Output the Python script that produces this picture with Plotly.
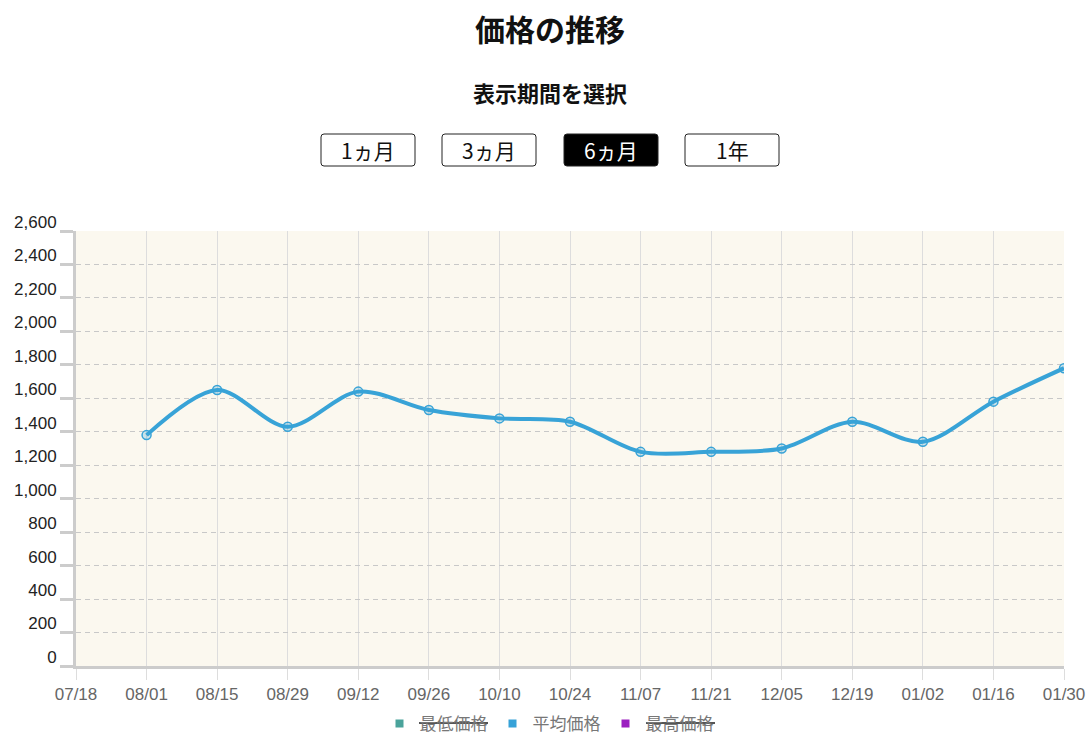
import plotly.graph_objects as go

# ---- data ----
tick_labels = ["07/18", "08/01", "08/15", "08/29", "09/12", "09/26", "10/10", "10/24",
               "11/07", "11/21", "12/05", "12/19", "01/02", "01/16", "01/30"]
price_dates = ["08/01", "08/15", "08/29", "09/12", "09/26", "10/10", "10/24",
               "11/07", "11/21", "12/05", "12/19", "01/02", "01/16", "01/30"]
avg_price = [1380, 1650, 1430, 1640, 1530, 1480, 1460, 1280, 1280, 1300, 1460, 1340, 1580, 1780]
period_buttons = ["1ヵ月", "3ヵ月", "6ヵ月", "1年"]
active_button = 2
legend_names = ["最低価格", "平均価格", "最高価格"]
legend_colors = ["#4aa39b", "#36a2d8", "#9b1fc0"]
legend_hidden = [True, False, True]

W, H = 1089, 740
L, R, T, B = 76, 25, 231, 74
PW, PH = W - L - R, H - T - B

def px2x(px):
    return (px - L) / PW

def py2y(py):
    return (T + PH - py) / PH

def rect_path(x0, y0, x1, y1):
    return (f"M {px2x(x0)},{py2y(y0)} L {px2x(x1)},{py2y(y0)} "
            f"L {px2x(x1)},{py2y(y1)} L {px2x(x0)},{py2y(y1)} Z")

JP = "Noto Sans CJK JP"
LAT = "Liberation Sans, Arial, Noto Sans CJK JP"
line_color = "#38a3d7"

fig = go.Figure()
fig.add_trace(go.Scatter(
    x=price_dates, y=avg_price, mode="lines+markers",
    line=dict(color=line_color, width=4, shape="spline", smoothing=0.9),
    marker=dict(symbol="circle", size=9, color="rgba(56,163,215,0.25)",
                line=dict(color=line_color, width=1.5)),
    showlegend=False, name="平均価格",
))

# legend entries (min / max series are hidden in the reference)
for nm, col in zip(legend_names, legend_colors):
    fig.add_trace(go.Scatter(
        x=[None], y=[None], mode="markers", name=nm,
        marker=dict(symbol="square", size=8, color=col),
        showlegend=True,
    ))

shapes = []
annotations = []

# title & subtitle
annotations.append(dict(text="<b>価格の推移</b>", x=px2x(550), y=py2y(28), xref="paper", yref="paper",
                        showarrow=False, font=dict(family=JP, size=30, color="#111"),
                        xanchor="center", yanchor="middle"))
annotations.append(dict(text="<b>表示期間を選択</b>", x=px2x(550), y=py2y(92), xref="paper", yref="paper",
                        showarrow=False, font=dict(family=JP, size=22, color="#111"),
                        xanchor="center", yanchor="middle"))

# period buttons
btn_left = [321, 442, 564, 685]
btn_w, btn_top, btn_bot, rad = 94, 134, 166, 3
for i, (lbl, bx) in enumerate(zip(period_buttons, btn_left)):
    x0, x1 = bx, bx + btn_w
    rx, ry = rad, rad
    pts = (
        f"M {px2x(x0 + rx)},{py2y(btn_top)} L {px2x(x1 - rx)},{py2y(btn_top)} "
        f"Q {px2x(x1)},{py2y(btn_top)} {px2x(x1)},{py2y(btn_top + ry)} "
        f"L {px2x(x1)},{py2y(btn_bot - ry)} Q {px2x(x1)},{py2y(btn_bot)} {px2x(x1 - rx)},{py2y(btn_bot)} "
        f"L {px2x(x0 + rx)},{py2y(btn_bot)} Q {px2x(x0)},{py2y(btn_bot)} {px2x(x0)},{py2y(btn_bot - ry)} "
        f"L {px2x(x0)},{py2y(btn_top + ry)} Q {px2x(x0)},{py2y(btn_top)} {px2x(x0 + rx)},{py2y(btn_top)} Z"
    )
    active = (i == active_button)
    shapes.append(dict(type="path", path=pts, xref="paper", yref="paper",
                       fillcolor="#000" if active else "#fff",
                       line=dict(color="#222", width=1), layer="above"))
    annotations.append(dict(text=lbl, x=px2x((x0 + x1) / 2), y=py2y((btn_top + btn_bot) / 2),
                            xref="paper", yref="paper", showarrow=False,
                            font=dict(family=JP, size=21, color="#fff" if active else "#111"),
                            xanchor="center", yanchor="middle"))

# strike-through bars over hidden legend entries
legend_center = 549
legend_mid_y = 724
legend_text_starts = [420, 533, 647]
legend_text_w = 67
for tx0, hid in zip(legend_text_starts, legend_hidden):
    if hid:
        shapes.append(dict(type="path", xref="paper", yref="paper",
                           path=rect_path(tx0 - 1, legend_mid_y - 2, tx0 + legend_text_w + 1, legend_mid_y),
                           fillcolor="#555", line=dict(width=0), layer="above"))

fig.update_layout(
    width=W, height=H,
    margin=dict(l=L, r=R, t=T, b=B, autoexpand=False),
    paper_bgcolor="#ffffff",
    plot_bgcolor="#fbf8ef",
    shapes=shapes,
    annotations=annotations,
    showlegend=True,
    legend=dict(orientation="h", x=px2x(legend_center), y=py2y(legend_mid_y),
                xanchor="center", yanchor="middle", bgcolor="rgba(0,0,0,0)",
                font=dict(family=LAT, size=17, color="#777"), itemclick=False, itemdoubleclick=False,
                tracegroupgap=0, itemwidth=30),
    xaxis=dict(
        type="category", categoryorder="array", categoryarray=tick_labels,
        tickmode="array", tickvals=tick_labels, ticktext=tick_labels,
        range=[0, len(tick_labels) - 1],
        showgrid=True, gridcolor="#dddddd", gridwidth=1,
        ticks="outside", ticklen=11, tickcolor="#dddddd", tickwidth=1,
        showline=True, linecolor="#cccccc", linewidth=3,
        tickfont=dict(family=LAT, size=17, color="#666"),
        zeroline=False, fixedrange=True, automargin=False,
    ),
    yaxis=dict(
        range=[0, 2600], tickmode="linear", tick0=0, dtick=200, tickformat=",d",
        showgrid=True, gridcolor="#c8c8c8", gridwidth=1, griddash="5px,4px",
        ticks="outside", ticklen=13, tickcolor="#cccccc", tickwidth=3,
        showline=True, linecolor="#cccccc", linewidth=3,
        tickfont=dict(family=LAT, size=17, color="#222"),
        ticklabelshift=-9,
        zeroline=False, fixedrange=True, automargin=False,
    ),
)

fig.write_html("out.html", config={"displayModeBar": False},
               post_script="document.body.style.margin='0';document.body.style.overflow='hidden';")
